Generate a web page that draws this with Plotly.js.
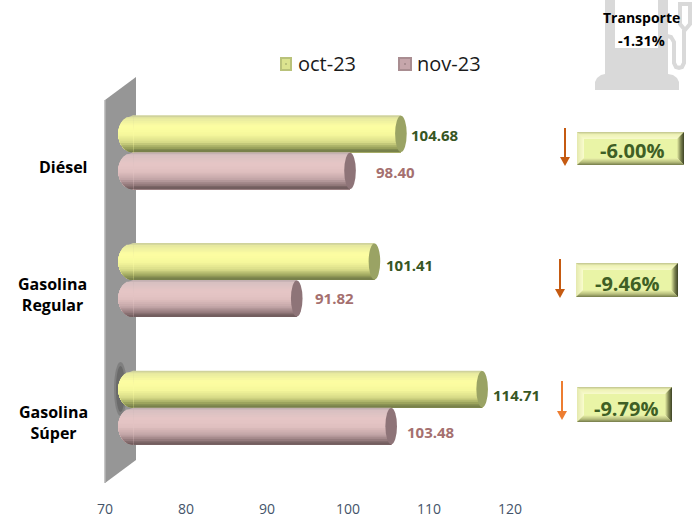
<!DOCTYPE html>
<html>
<head>
<meta charset="utf-8">
<script src="https://cdn.plot.ly/plotly-3.0.1.min.js"></script>
<style>html,body{margin:0;padding:0;background:#fff}</style>
</head>
<body>
<div id="chart" style="width:700px;height:518px"></div>
<script>
// ---- data ----
const categories = ['Diésel', 'Gasolina Regular', 'Gasolina Súper'];
const categoryLines = ['Diésel', 'Gasolina<br>Regular', 'Gasolina<br>Súper'];
const seriesNames = ['oct-23', 'nov-23'];
const oct23 = [104.68, 101.41, 114.71];
const nov23 = [98.40, 91.82, 103.48];
const changes = ['-6.00%', '-9.46%', '-9.79%'];
const transportLabel = 'Transporte';
const transportChange = '-1.31%';
const xTicks = [70, 80, 90, 100, 110, 120];

// ---- geometry (pixels in the 700x518 frame) ----
const W = 700, H = 518;
const PX = x => x / W, PY = y => 1 - y / H;
const plotL = 105, plotR = 510, plotT = 100, plotB = 483;
const depthX = 15, depthY = 11.5;
const wallDX = 31, wallDY = 23;
const pxPerUnit = (plotR - plotL) / (xTicks[5] - xTicks[0]);
const pxPerCat = (plotB - plotT) / 3;
const barH = 37 / pxPerCat;
const barBase = 71.6;
const N = 20;
const x2Pad = 4; // value units of room left of 70 so the rounded bar ends are not clipped

function hex(c){return [1,3,5].map(i=>parseInt(c.substr(i,2),16));}
function ramp(stops,t){
  for(let i=1;i<stops.length;i++){
    if(t<=stops[i][0]){
      const a=stops[i-1],b=stops[i],f=(t-a[0])/(b[0]-a[0]);
      const ca=hex(a[1]),cb=hex(b[1]);
      return 'rgb('+ca.map((v,k)=>Math.round(v+(cb[k]-v)*f)).join(',')+')';
    }
  }
  return stops[stops.length-1][1];
}
const octRamp=[[0,'#c4c79a'],[0.07,'#e6e99f'],[0.3,'#fdfea2'],[0.52,'#f6f89c'],[0.72,'#d8dc88'],[0.88,'#9aa25c'],[1,'#6f7846']];
const novRamp=[[0,'#b9a8aa'],[0.07,'#d8c0c1'],[0.3,'#e6c6c6'],[0.52,'#e0c0c0'],[0.72,'#c4a6a8'],[0.88,'#937a7c'],[1,'#6b5757']];

const series=[
 {name:seriesNames[0],vals:oct23,ramp:octRamp,off:-barH,cap:'#9aa364',swatch:'#dbe38f',swatchEdge:'#b9c27a',label:'#375623',
  nudgeX:[8,10,9],nudgeY:[-1.5,-3.5,-6],swatchX:[280,292]},
 {name:seriesNames[1],vals:nov23,ramp:novRamp,off:0,cap:'#8e7478',swatch:'#c6a6ab',swatchEdge:'#a98d91',label:'#a5706f',
  nudgeX:[24,16,14],nudgeY:[-1.5,0.5,-5.5],swatchX:[398,412]}
];

const idx=categories.map((_,i)=>i);
const traces=[{x:categories.map(()=>xTicks[0]),y:categories,type:'scatter',mode:'none',showlegend:false,hoverinfo:'skip',xaxis:'x',yaxis:'y'}];
const shapes=[];
const annotations=[];

// wall (the 3D back plane)
shapes.push({type:'path',xref:'paper',yref:'paper',layer:'below',line:{width:0},fillcolor:'#969696',
 path:`M${PX(plotL)},${PY(plotT)} L${PX(plotL+wallDX)},${PY(plotT-wallDY)} L${PX(plotL+wallDX)},${PY(plotB-wallDY)} L${PX(plotL)},${PY(plotB)} Z`});
shapes.push({type:'line',xref:'paper',yref:'paper',layer:'below',x0:PX(plotL),x1:PX(plotL),y0:PY(plotT),y1:PY(plotB),line:{color:'#b5b5b5',width:1.5}});
// shadow on the wall by the long bar
[[114,127,362,416,0.35],[116,125,366,412,0.5]].forEach(s=>shapes.push({type:'circle',xref:'paper',yref:'paper',layer:'below',
 x0:PX(s[0]),x1:PX(s[1]),y0:PY(s[3]),y1:PY(s[2]),fillcolor:'#555',opacity:s[4],line:{width:0}}));

const capA = 14.7/pxPerUnit, endA = 5.8/pxPerUnit;
series.forEach(s=>{
  // transparent base bar carries the legend entry; its swatch is painted below
  traces.push({type:'bar',orientation:'h',name:s.name,x:s.vals.map(v=>v-barBase),base:barBase,y:idx,width:barH,offset:s.off,
    marker:{color:'rgba(0,0,0,0)',line:{width:0}},xaxis:'x2',yaxis:'y2',hoverinfo:'skip',showlegend:true});
  for(let b=0;b<N;b++){
    const top=s.off+barH*b/N, h=barH*(N-b)/N;
    const col=ramp(s.ramp,(b+0.5)/N);
    traces.push({type:'bar',orientation:'h',x:s.vals.map(v=>v-barBase),base:barBase,y:idx,width:h,offset:top,
      marker:{color:col,line:{width:0}},xaxis:'x2',yaxis:'y2',hoverinfo:'skip',showlegend:false});
    idx.forEach(i=>{
      const yc=i+s.off+barH/2, r=barH/2, pts=[];
      for(let k=0;k<=10;k++){
        const yy=i+top+h*k/10, t=Math.max(-1,Math.min(1,(yy-yc)/r));
        pts.push([barBase-capA*Math.sqrt(1-t*t),yy]);
      }
      const path='M'+(barBase+0.05)+','+(i+top)+' '+pts.map(p=>'L'+p[0]+','+p[1]).join(' ')+' L'+(barBase+0.05)+','+(i+top+h)+' Z';
      shapes.push({type:'path',xref:'x2',yref:'y2',layer:'above',path,fillcolor:col,line:{width:0}});
    });
  }
  s.vals.forEach((v,i)=>{
    shapes.push({type:'circle',xref:'x2',yref:'y2',layer:'above',x0:v-endA,x1:v+endA,y0:i+s.off+0.003,y1:i+s.off+barH-0.003,fillcolor:s.cap,line:{width:0}});
    annotations.push({xref:'x2',yref:'y2',x:v,y:i+s.off+barH/2,text:v.toFixed(2),showarrow:false,xanchor:'left',yanchor:'middle',
      xshift:s.nudgeX[i],yshift:s.nudgeY[i],font:{family:'Open Sans',size:15,color:s.label,weight:700}});
  });
  // legend swatch with its bevel
  const [sl,sr]=s.swatchX, st=57, sb=71;
  shapes.push({type:'rect',xref:'paper',yref:'paper',layer:'above',x0:PX(sl),x1:PX(sr),y0:PY(sb),y1:PY(st),fillcolor:s.swatchEdge,line:{width:0}});
  shapes.push({type:'rect',xref:'paper',yref:'paper',layer:'above',x0:PX(sl+2),x1:PX(sr-2),y0:PY(sb-2),y1:PY(st+2),fillcolor:s.swatch,line:{width:0}});
  shapes.push({type:'rect',xref:'paper',yref:'paper',layer:'above',x0:PX((sl+sr)/2-1),x1:PX((sl+sr)/2+1),y0:PY((st+sb)/2+1),y1:PY((st+sb)/2-1),fillcolor:s.swatchEdge,line:{width:0}});
});

// category labels
const catX=[63,52,53];
categories.forEach((c,i)=>annotations.push({xref:'paper',yref:'y',x:PX(catX[i]),y:c,yshift:-3,text:'<b>'+categoryLines[i]+'</b>',showarrow:false,
  xanchor:'center',yanchor:'middle',align:'center',font:{family:'Open Sans',size:16,color:'#000'}}));

// change boxes
const boxes=[[577,684,132,165,632,150],[576,678,263,297,627,283],[577,672,387,422,626,408]];
const bev=7;
const topR=[[0,'#c9cd95'],[0.35,'#eef2b6'],[1,'#f6f9c9']];
const leftR=[[0,'#e6eab0'],[1,'#f8fbcc']];
const rightR=[[0,'#474d2c'],[0.45,'#7c8350'],[1,'#dbe39a']];
const botR=[[0,'#7f8652'],[0.4,'#b6bd7c'],[1,'#e6eea5']];
boxes.forEach((b,i)=>{
  const [l,r,t,bt,tx,ty]=b;
  const poly=(pts,col)=>shapes.push({type:'path',xref:'paper',yref:'paper',layer:'above',fillcolor:col,line:{width:0},
    path:'M'+pts.map(p=>PX(p[0])+','+PY(p[1])).join(' L')+' Z'});
  for(let j=0;j<bev;j++){
    const f=j/(bev-1);
    const L=l+j,R=r-j,T=t+j,B=bt-j;
    poly([[L,T],[R,T],[R,B],[L,B]],ramp(leftR,f));
    poly([[L,T],[R,T],[R-bev+j,T+bev-j],[L+bev-j,T+bev-j]],ramp(topR,f));
    poly([[R,T],[R,B],[R-bev+j,B-bev+j],[R-bev+j,T+bev-j]],ramp(rightR,f));
    poly([[L,B],[L+bev-j,B-bev+j],[R-bev+j,B-bev+j],[R,B]],ramp(botR,f));
  }
  poly([[l+bev,t+bev],[r-bev,t+bev],[r-bev,bt-bev],[l+bev,bt-bev]],'#e9f4a6');
  annotations.push({xref:'paper',yref:'paper',x:PX(tx),y:PY(ty),text:'<b>'+changes[i]+'</b>',showarrow:false,xanchor:'center',yanchor:'middle',
    font:{family:'Open Sans',size:20,color:'#3f5f25'}});
});

// arrows
[[565,128,166,'#c55a11'],[560,259,298,'#c55a11'],[562,381,420,'#ed7d31']].forEach(a=>{
  shapes.push({type:'line',xref:'paper',yref:'paper',layer:'above',x0:PX(a[0]),x1:PX(a[0]),y0:PY(a[1]),y1:PY(a[2]-8),line:{color:a[3],width:2}});
  shapes.push({type:'path',xref:'paper',yref:'paper',layer:'above',fillcolor:a[3],line:{width:0},
    path:`M${PX(a[0]-5)},${PY(a[2]-9)} L${PX(a[0]+5)},${PY(a[2]-9)} L${PX(a[0])},${PY(a[2])} Z`});
});

// fuel pump silhouette
const pump='#d9d9d9';
const pPath=(pts,close=true)=>'M'+pts.map(p=>PX(p[0])+','+PY(p[1])).join(' L')+(close?' Z':'');
shapes.push({type:'path',xref:'paper',yref:'paper',layer:'below',fillcolor:pump,line:{width:0},
  path:pPath([[605,0],[615,0],[615,48],[658,48],[658,0],[668,0],[668,74],[673,75],[677,78],[679,82],[679,90],[595,90],[595,82],[597,78],[601,75],[605,74]])});
shapes.push({type:'path',xref:'paper',yref:'paper',layer:'below',fillcolor:'rgba(0,0,0,0)',line:{color:pump,width:4},
  path:pPath([[667,36],[671,37],[674,42],[674,63],[676,67],[679,68],[682,67],[684,63],[684,30]],false)});
shapes.push({type:'path',xref:'paper',yref:'paper',layer:'below',fillcolor:'rgba(0,0,0,0)',line:{color:pump,width:4},
  path:pPath([[680,4],[690,4],[690,24],[685,30],[680,24]])});
annotations.push({xref:'paper',yref:'paper',x:PX(641),y:PY(17),text:'<b>'+transportLabel+'</b>',showarrow:false,xanchor:'center',yanchor:'middle',font:{family:'Open Sans',size:14,color:'#000'}});
annotations.push({xref:'paper',yref:'paper',x:PX(641),y:PY(41),text:'<b>'+transportChange+'</b>',showarrow:false,xanchor:'center',yanchor:'middle',font:{family:'Open Sans',size:14.5,color:'#000'}});

const layout={
  width:W,height:H,autosize:false,margin:{l:0,r:0,t:0,b:0,pad:0},
  paper_bgcolor:'#fff',plot_bgcolor:'rgba(0,0,0,0)',barmode:'overlay',showlegend:true,hovermode:false,
  font:{family:'Open Sans'},
  xaxis:{domain:[PX(plotL),PX(plotR)],range:[xTicks[0],xTicks[5]],tickmode:'array',tickvals:xTicks,ticktext:xTicks.map(String),
    showgrid:false,zeroline:false,showline:false,ticks:'outside',ticklen:13,tickcolor:'rgba(0,0,0,0)',anchor:'y',
    tickfont:{family:'Open Sans',size:14,color:'#44546a'}},
  yaxis:{domain:[PY(plotB),PY(plotT)],type:'category',categoryorder:'array',categoryarray:categories,range:[2.5,-0.5],
    showticklabels:false,ticks:'',showgrid:false,zeroline:false,showline:false,anchor:'x'},
  xaxis2:{domain:[PX(plotL+depthX-x2Pad*pxPerUnit),PX(plotR+depthX)],range:[xTicks[0]-x2Pad,xTicks[5]],visible:false,anchor:'y2'},
  yaxis2:{domain:[PY(plotB-depthY),PY(plotT-depthY)],range:[2.5,-0.5],visible:false,anchor:'x2'},
  legend:{orientation:'h',x:PX(258),y:PY(44),xanchor:'left',yanchor:'top',bgcolor:'rgba(0,0,0,0)',entrywidth:74,entrywidthmode:'pixels',itemwidth:30,
    font:{family:'Open Sans',size:20,color:'#1a1a1a'},itemclick:false,itemdoubleclick:false},
  shapes,annotations
};
Plotly.newPlot('chart',traces,layout,{displayModeBar:false,responsive:false});
</script>
</body>
</html>
